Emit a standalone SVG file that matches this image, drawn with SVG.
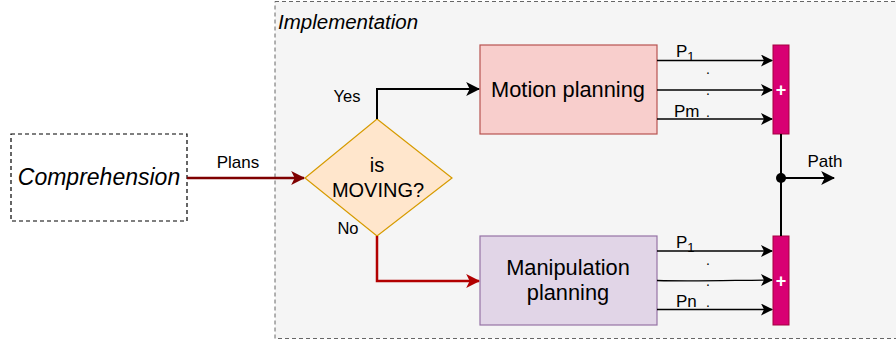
<svg xmlns="http://www.w3.org/2000/svg" width="896" height="343" viewBox="0 0 896 343">
  <style>
    text { font-family: "Liberation Sans", Arial, sans-serif; fill: #000; }
    .it { font-style: italic; }
    .lbl { font-size: 16.5px; }
    .wire { fill: none; stroke: #000; stroke-width: 2; }
    .thin { fill: none; stroke: #000; stroke-width: 1.3; }
    .bar { fill: #d80073; stroke: #a50040; stroke-width: 1; }
    .plus { fill: #fff; font-size: 18px; font-weight: bold; }
  </style>
  <defs>
    <marker id="arrBlack" viewBox="0 0 12 12" refX="11" refY="6" markerWidth="12" markerHeight="12" markerUnits="userSpaceOnUse" orient="auto">
      <path d="M0,0 L12,6 L0,12 L3,6 Z" fill="#000"/>
    </marker>
    <marker id="arrBig" viewBox="0 0 12 12" refX="11" refY="6" markerWidth="14" markerHeight="14" markerUnits="userSpaceOnUse" orient="auto">
      <path d="M0,0 L12,6 L0,12 L3,6 Z" fill="#000"/>
    </marker>
    <marker id="arrDark" viewBox="0 0 12 12" refX="11" refY="6" markerWidth="14" markerHeight="14" markerUnits="userSpaceOnUse" orient="auto">
      <path d="M0,0 L12,6 L0,12 L3,6 Z" fill="#7f0000"/>
    </marker>
    <marker id="arrRed" viewBox="0 0 12 12" refX="11" refY="6" markerWidth="14" markerHeight="14" markerUnits="userSpaceOnUse" orient="auto">
      <path d="M0,0 L12,6 L0,12 L3,6 Z" fill="#b20000"/>
    </marker>
  </defs>

  <!-- implementation container -->
  <g id="implementation">
    <rect x="275" y="1.5" width="640" height="337" fill="#f5f5f5" stroke="#666" stroke-width="1" stroke-dasharray="4 3"/>
    <text x="278" y="29" class="it" font-size="20.5">Implementation</text>
  </g>

  <!-- comprehension block -->
  <g id="comprehension">
    <rect x="11" y="134" width="176" height="87" fill="#fff" stroke="#000" stroke-width="1.2" stroke-dasharray="4 3"/>
    <text x="99" y="185" class="it" font-size="23" text-anchor="middle">Comprehension</text>
  </g>

  <!-- decision -->
  <g id="decision">
    <polygon points="377,119 452,178 377,236 305,178" fill="#ffe6cc" stroke="#d79b00" stroke-width="1.2"/>
    <text x="377" y="172" font-size="20" text-anchor="middle">is</text>
    <text x="378" y="197" font-size="20" text-anchor="middle">MOVING?</text>
  </g>

  <!-- planners -->
  <g id="motion-planning">
    <rect x="480" y="45" width="177" height="89" fill="#f8cecc" stroke="#b85450" stroke-width="1.2"/>
    <text x="568" y="97" font-size="21.8" text-anchor="middle">Motion planning</text>
  </g>
  <g id="manipulation-planning">
    <rect x="480" y="236" width="177" height="89" fill="#e1d5e7" stroke="#9673a6" stroke-width="1.2"/>
    <text x="568" y="275" font-size="21.8" text-anchor="middle">Manipulation</text>
    <text x="568" y="300" font-size="21.8" text-anchor="middle">planning</text>
  </g>

  <!-- summing bars -->
  <g id="sum-motion">
    <rect class="bar" x="773" y="45" width="16" height="89"/>
    <text class="plus" x="781" y="96" text-anchor="middle">+</text>
  </g>
  <g id="sum-manipulation">
    <rect class="bar" x="773" y="236" width="16" height="89"/>
    <text class="plus" x="781" y="287" text-anchor="middle">+</text>
  </g>

  <!-- connectors -->
  <g id="connectors">
    <line x1="187" y1="178" x2="304" y2="178" stroke="#7f0000" stroke-width="2.5" marker-end="url(#arrDark)"/>
    <text x="238" y="168" font-size="17" text-anchor="middle">Plans</text>

    <polyline class="wire" points="377,119 377,89 479,89" stroke-width="2.5" marker-end="url(#arrBig)"/>
    <text x="347" y="102" class="lbl" text-anchor="middle">Yes</text>

    <polyline points="377,236 377,281 479,281" fill="none" stroke="#b20000" stroke-width="2.5" marker-end="url(#arrRed)"/>
    <text x="348" y="234" class="lbl" text-anchor="middle">No</text>

    <!-- motion outputs -->
    <line class="thin" x1="657" y1="60.5" x2="772" y2="60.5" marker-end="url(#arrBlack)"/>
    <line class="thin" x1="657" y1="90" x2="772" y2="90" marker-end="url(#arrBlack)"/>
    <line class="thin" x1="657" y1="119" x2="772" y2="119" marker-end="url(#arrBlack)"/>
    <text x="676" y="57" font-size="17">P<tspan font-size="13" dy="4">1</tspan></text>
    <text x="706" y="74" font-size="14">.</text>
    <text x="706" y="95" font-size="14">.</text>
    <text x="674" y="117" font-size="17">Pm <tspan x="706" font-size="14">.</tspan></text>

    <!-- manipulation outputs -->
    <line class="thin" x1="657" y1="251" x2="772" y2="251" marker-end="url(#arrBlack)"/>
    <path class="thin" d="M657,280.5 C700,281.5 740,280 772,280" marker-end="url(#arrBlack)"/>
    <line class="thin" x1="657" y1="309.5" x2="772" y2="309.5" marker-end="url(#arrBlack)"/>
    <text x="676" y="248" font-size="17">P<tspan font-size="13" dy="4">1</tspan></text>
    <text x="706" y="265" font-size="14">.</text>
    <text x="706" y="286" font-size="14">.</text>
    <text x="676" y="307" font-size="17">Pn <tspan x="706" font-size="14">.</tspan></text>

    <!-- merged output -->
    <line class="wire" x1="781" y1="134" x2="781" y2="236"/>
    <circle cx="781" cy="178" r="5" fill="#000"/>
    <line class="wire" x1="781" y1="178" x2="834" y2="178" marker-end="url(#arrBig)"/>
    <text x="825" y="167" font-size="17" text-anchor="middle">Path</text>
  </g>
</svg>
